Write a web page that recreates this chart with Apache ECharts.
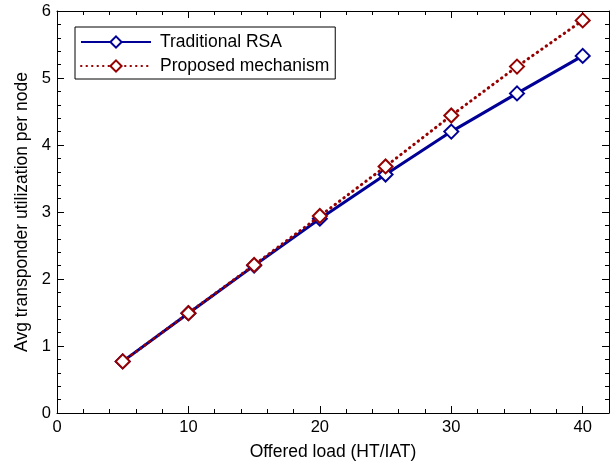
<!DOCTYPE html>
<html>
<head>
<meta charset="utf-8">
<script src="https://cdn.jsdelivr.net/npm/echarts@6/dist/echarts.min.js"></script>
<style>html,body{margin:0;padding:0;background:#fff;}#c{width:616px;height:468px;}</style>
</head>
<body>
<div id="c"></div>
<script>
const loads = [5, 10, 15, 20, 25, 30, 35, 40];
const traditionalRSA = [0.77, 1.49, 2.2, 2.9, 3.56, 4.2, 4.77, 5.33];
const proposedMechanism = [0.77, 1.49, 2.21, 2.94, 3.68, 4.44, 5.17, 5.86];
const seriesNames = ['Traditional RSA', 'Proposed mechanism'];
const xTitle = 'Offered load (HT/IAT)';
const yTitle = 'Avg transponder utilization per node';

const FONT = 'Liberation Sans, Arial, Helvetica, sans-serif';
const chart = echarts.init(document.getElementById('c'), null, {renderer: 'canvas'});

function pairs(xs, ys) { return xs.map((x, i) => [x, ys[i]]); }

const axisCommon = {
  axisLine: {show: true, onZero: false, lineStyle: {color: '#000', width: 1}},
  axisTick: {show: true, inside: true, length: 7, lineStyle: {color: '#000'}},
  minorTick: {show: true, splitNumber: 5, length: 4, lineStyle: {color: '#000'}},
  splitLine: {show: false},
  minorSplitLine: {show: false}
};

chart.setOption({
  backgroundColor: '#fff',
  animation: false,
  grid: {left: 57, right: 7, top: 11, bottom: 55, containLabel: false},
  legend: {
    orient: 'vertical',
    left: 75, top: 27,
    data: seriesNames,
    backgroundColor: '#fff',
    borderColor: '#000', borderWidth: 1, borderRadius: 0,
    padding: [6, 6, 4, 5],
    itemWidth: 70, itemHeight: 14, itemGap: 6,
    textStyle: {fontFamily: FONT, fontSize: 17.5, color: '#000', padding: [0, 0, 0, 4]}
  },
  xAxis: [
    Object.assign({
      type: 'value', min: 0, max: 42, interval: 10, position: 'bottom',
      name: xTitle, nameLocation: 'middle', nameGap: 30,
      nameTextStyle: {fontFamily: FONT, fontSize: 17.5, color: '#000'},
      axisLabel: {fontFamily: FONT, fontSize: 16.5, color: '#000', margin: 6,
        formatter: v => (v % 10 === 0 ? String(v) : '')}
    }, axisCommon),
    Object.assign({
      type: 'value', min: 0, max: 42, interval: 10, position: 'top',
      axisLabel: {show: false}
    }, axisCommon)
  ],
  yAxis: [
    Object.assign({
      type: 'value', min: 0, max: 6, interval: 1, position: 'left',
      name: yTitle, nameLocation: 'middle', nameGap: 26,
      nameTextStyle: {fontFamily: FONT, fontSize: 17.5, color: '#000'},
      axisLabel: {fontFamily: FONT, fontSize: 16.5, color: '#000', margin: 6}
    }, axisCommon),
    Object.assign({
      type: 'value', min: 0, max: 6, interval: 1, position: 'right',
      axisLabel: {show: false}
    }, axisCommon)
  ],
  series: [
    {
      name: seriesNames[0], type: 'line',
      data: pairs(loads, traditionalRSA),
      symbol: 'emptyDiamond', symbolSize: 14, showAllSymbol: true,
      itemStyle: {color: '#000096', borderWidth: 1.1},
      lineStyle: {color: '#000096', width: 3},
      z: 2
    },
    {
      name: seriesNames[1], type: 'line',
      data: pairs(loads, proposedMechanism),
      symbol: 'emptyDiamond', symbolSize: 14, showAllSymbol: true,
      itemStyle: {color: '#960000', borderWidth: 1.1},
      lineStyle: {color: '#960000', width: 3, type: [0.5, 5], cap: 'round'},
      z: 3
    }
  ]
});
</script>
</body>
</html>
